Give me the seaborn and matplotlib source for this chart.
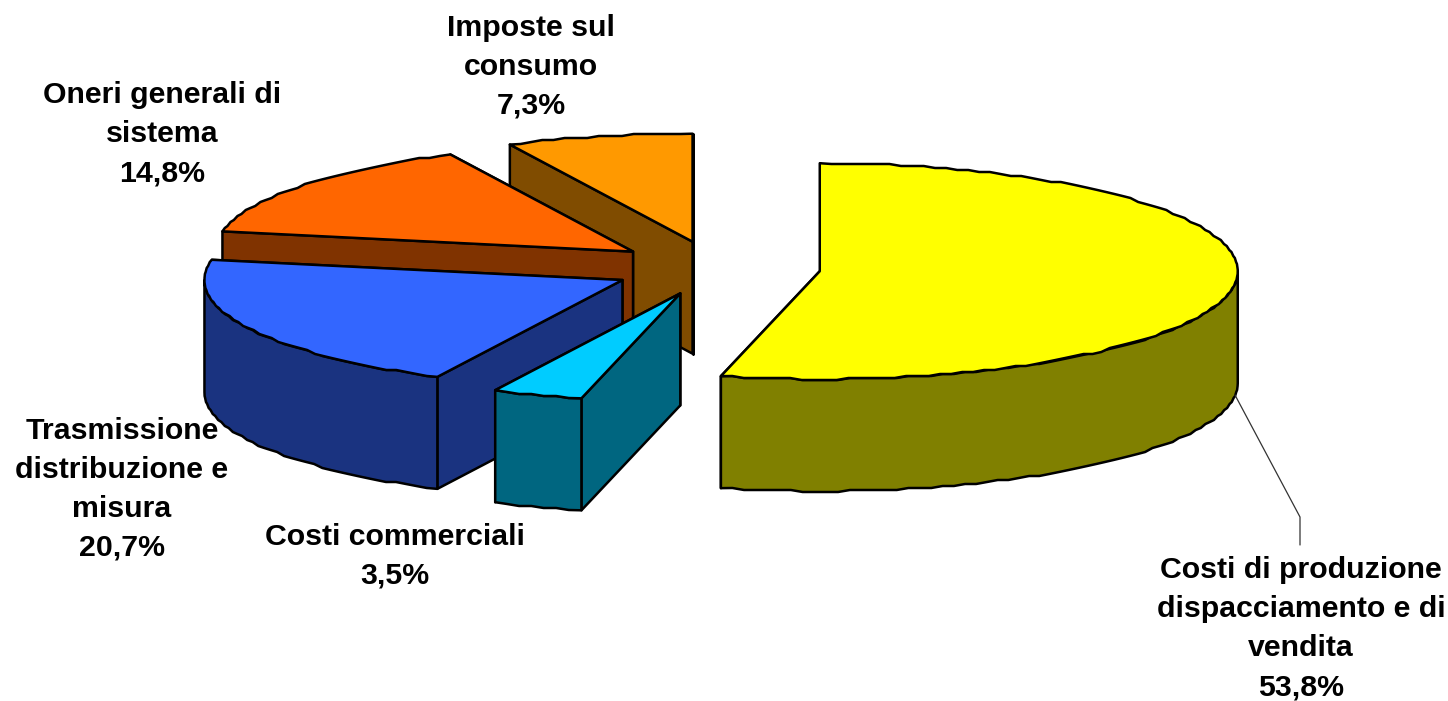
import numpy as np
import matplotlib
matplotlib.use("Agg")
import matplotlib.pyplot as plt
from matplotlib.patches import Polygon
import seaborn as sns

# ---- data ----
categories = ["Costi di produzione\ndispacciamento e di\nvendita",
              "Costi commerciali",
              "Trasmissione\ndistribuzione e\nmisura",
              "Oneri generali di\nsistema",
              "Imposte sul\nconsumo"]
shares = [53.8, 3.5, 20.7, 14.8, 7.3]
share_labels = ["53,8%", "3,5%", "20,7%", "14,8%", "7,3%"]

# ---- style ----
top_colors = ["#FFFF00", "#00CCFF", "#3366FF", "#FF6600", "#FF9900"]
side_colors = ["#808000", "#006680", "#1A3380", "#803300", "#804C00"]
label_pos = [(1301, 556), (395, 523), (122, 417), (162, 81), (531, 14)]
draw_order = [4, 3, 0, 2, 1]
CX, CY = 716, 268
RX, RY, DEPTH = 418, 108, 112
EXPLODE = 0.25
EDGE = 1.8

sns.set_theme(style="white")
plt.rcParams["font.family"] = ["Liberation Sans", "DejaVu Sans"]

fig = plt.figure(figsize=(14.48, 7.01), dpi=100, facecolor="white")
ax = fig.add_axes([0, 0, 1, 1])
ax.set_xlim(0, 1448)
ax.set_ylim(701, 0)
ax.axis("off")

values = np.array(shares, dtype=float)
edges = np.minimum(np.concatenate([[0], np.cumsum(values)]) * 3.6, 360)


def point(cx, cy, ang):
    a = np.radians(ang)
    return cx + RX * np.sin(a), cy - RY * np.cos(a)


def arc(cx, cy, a0, a1, dy=0.0):
    n = max(2, int(abs(a1 - a0) / 1.6) + 1)
    angs = np.linspace(a0, a1, n)
    xs, ys = point(cx, cy, angs)
    # the source renderer snapped the outline to a coarse grid
    if n > 2:
        ys[1:-1] = np.round(ys[1:-1] / 2) * 2
    return np.column_stack([xs, ys + dy])


def poly(pts, color, z):
    ax.add_patch(Polygon(pts, closed=True, facecolor=color, edgecolor="black",
                         linewidth=EDGE, joinstyle="round", zorder=z))


z = 1
for i in draw_order:
    a0, a1 = edges[i], edges[i + 1]
    mid = np.radians((a0 + a1) / 2)
    cx = CX + EXPLODE * RX * np.sin(mid)
    cy = CY - EXPLODE * RY * np.cos(mid)
    top, side = top_colors[i], side_colors[i]
    c = np.array([cx, cy])
    down = np.array([0, DEPTH])
    for ang in (a1, a0):
        p = np.array(point(cx, cy, ang))
        poly([c, p, p + down, c + down], side, z)
        z += 1
    f0, f1 = max(a0, 90), min(a1, 270)
    if f1 > f0:
        upper = arc(cx, cy, f0, f1)
        lower = arc(cx, cy, f1, f0, DEPTH)
        poly(np.vstack([upper, lower]), side, z)
        z += 1
    poly(np.vstack([[c], arc(cx, cy, a0, a1)]), top, z)
    z += 1

# leader line of the largest slice
sns.lineplot(x=[1235, 1300, 1300], y=[395, 517, 545], ax=ax, sort=False,
             color="#333333", linewidth=0.9, estimator=None, zorder=z)

for cat, lab, (x, y) in zip(categories, share_labels, label_pos):
    ax.text(x, y, cat + "\n" + lab, ha="center", va="top",
            fontsize=21.8, fontweight="bold", color="black",
            linespacing=1.5, zorder=z + 1)

fig.savefig("out.png", dpi=100, facecolor="white")
